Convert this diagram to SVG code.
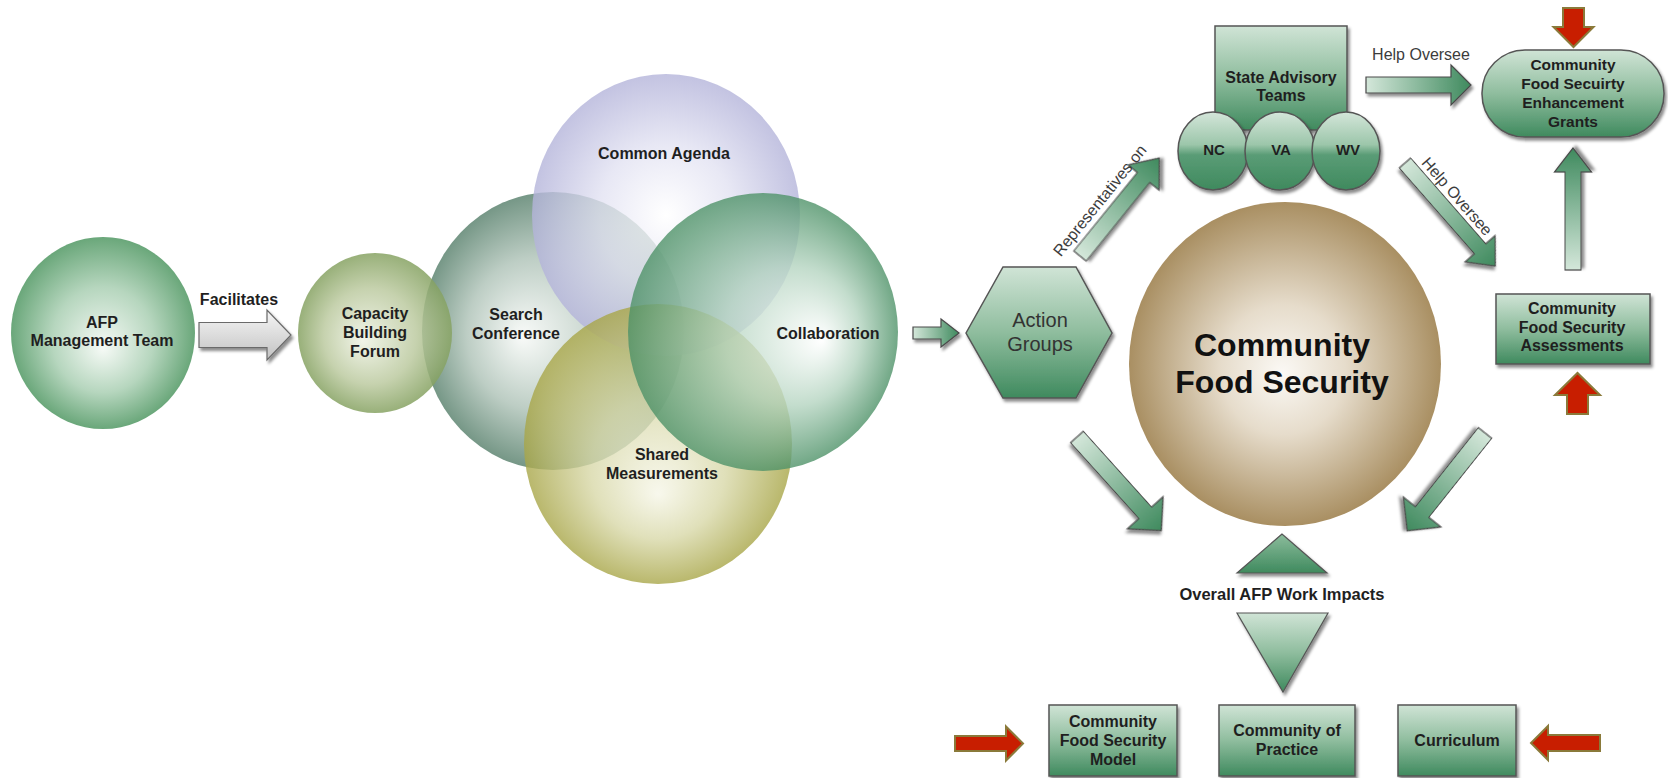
<svg xmlns="http://www.w3.org/2000/svg" width="1668" height="778" viewBox="0 0 1668 778">
<defs>
<style>
.b{font-family:"Liberation Sans",Arial,sans-serif;font-weight:bold;font-size:16px;fill:#1f1f1f;text-anchor:middle}
.r{font-family:"Liberation Sans",Arial,sans-serif;font-size:16px;fill:#3c3c3c;text-anchor:middle}
.box{fill:url(#gBox);stroke:#555;stroke-width:1.5;filter:url(#sh)}
.ga{fill:url(#gArrow);stroke:#4a4a4a;stroke-width:1.2;filter:url(#sh)}
.ra{fill:#c81e00;stroke:#8a7a3a;stroke-width:2}
</style>
<filter id="sh" x="-20%" y="-20%" width="140%" height="140%"><feDropShadow dx="2" dy="3" stdDeviation="1.5" flood-color="#000" flood-opacity="0.45"/></filter>
<linearGradient id="gBox" x1="0" y1="0" x2="0" y2="1"><stop offset="0" stop-color="#d0e4d6"/><stop offset="0.5" stop-color="#8fbd9e"/><stop offset="1" stop-color="#3f8a5e"/></linearGradient>
<linearGradient id="gCirc" x1="0" y1="0" x2="0" y2="1"><stop offset="0" stop-color="#d4e6da"/><stop offset="0.42" stop-color="#9cc6aa"/><stop offset="0.55" stop-color="#5a9c76"/><stop offset="1" stop-color="#3f8a5e"/></linearGradient>
<linearGradient id="gArrow" x1="0" y1="0" x2="1" y2="0"><stop offset="0" stop-color="#d4e7da"/><stop offset="1" stop-color="#3f8a5e"/></linearGradient>
<linearGradient id="gUp" x1="0" y1="0" x2="0" y2="1"><stop offset="0" stop-color="#8cbc9c"/><stop offset="1" stop-color="#3f8a5e"/></linearGradient>
<linearGradient id="gGray" x1="0" y1="0" x2="0" y2="1"><stop offset="0" stop-color="#f6f6f6"/><stop offset="1" stop-color="#c2c2c2"/></linearGradient>
<radialGradient id="rAFP" cx="0.5" cy="0.5" r="0.5" fx="0.5" fy="0.58"><stop offset="0" stop-color="#f6faf6"/><stop offset="0.55" stop-color="#b6d6be"/><stop offset="1" stop-color="#6aa77a"/></radialGradient>
<radialGradient id="rCap" cx="0.5" cy="0.5" r="0.5" fx="0.42" fy="0.55"><stop offset="0" stop-color="#eef2e4"/><stop offset="0.6" stop-color="#bccaa0"/><stop offset="1" stop-color="#86a262"/></radialGradient>
<radialGradient id="rSearch" cx="0.5" cy="0.5" r="0.5" fx="0.38" fy="0.52"><stop offset="0" stop-color="#f8faf8"/><stop offset="0.55" stop-color="#b7c9bf"/><stop offset="1" stop-color="#6a8e7c"/></radialGradient>
<radialGradient id="rCommon" cx="0.5" cy="0.5" r="0.5" fx="0.5" fy="0.5"><stop offset="0" stop-color="#ffffff"/><stop offset="0.5" stop-color="#e2e2f2"/><stop offset="1" stop-color="#b4b4da"/></radialGradient>
<radialGradient id="rShared" cx="0.5" cy="0.5" r="0.5" fx="0.5" fy="0.68"><stop offset="0" stop-color="#f6f6e8"/><stop offset="0.5" stop-color="#d8d8a8"/><stop offset="1" stop-color="#a8a648"/></radialGradient>
<radialGradient id="rCollab" cx="0.5" cy="0.5" r="0.5" fx="0.72" fy="0.53"><stop offset="0" stop-color="#ffffff"/><stop offset="0.5" stop-color="#b4d4c0"/><stop offset="1" stop-color="#4e9268"/></radialGradient>
<radialGradient id="rCFS" cx="0.5" cy="0.5" r="0.5" fx="0.49" fy="0.53"><stop offset="0" stop-color="#fbf9f5"/><stop offset="0.4" stop-color="#e6dccb"/><stop offset="1" stop-color="#a98f62"/></radialGradient>
</defs>
<rect width="1668" height="778" fill="#ffffff"/>

<g id="afp-management-team">
<ellipse cx="103" cy="333" rx="92" ry="96" fill="url(#rAFP)"/>
<text class="b" x="102" y="328">AFP</text>
<text class="b" x="102" y="346">Management Team</text>
</g>

<g id="venn">
<g id="search-conference"><ellipse cx="553" cy="331" rx="131" ry="139" fill="url(#rSearch)" opacity="0.92"/></g>
<g id="capacity-building-forum"><ellipse cx="375" cy="333" rx="77" ry="80" fill="url(#rCap)" opacity="0.85"/></g>
<g id="common-agenda"><ellipse cx="666" cy="215" rx="134" ry="141" fill="url(#rCommon)" opacity="0.8"/></g>
<g id="shared-measurements"><ellipse cx="658" cy="444" rx="134" ry="140" fill="url(#rShared)" opacity="0.8"/></g>
<g id="collaboration"><ellipse cx="763" cy="332" rx="135" ry="139" fill="url(#rCollab)" opacity="0.8"/></g>
<text class="b" x="375" y="319">Capacity</text>
<text class="b" x="375" y="338">Building</text>
<text class="b" x="375" y="357">Forum</text>
<text class="b" x="516" y="320">Search</text>
<text class="b" x="516" y="339">Conference</text>
<text class="b" x="664" y="159">Common Agenda</text>
<text class="b" x="828" y="339">Collaboration</text>
<text class="b" x="662" y="460">Shared</text>
<text class="b" x="662" y="479">Measurements</text>
</g>

<g id="action-groups">
<polygon points="966,333 1003,267 1076,267 1112,333 1076,398 1003,398" fill="url(#gBox)" stroke="#555" stroke-width="1.5" filter="url(#sh)"/>
<text class="r" x="1040" y="327" style="font-size:20px;fill:#333">Action</text>
<text class="r" x="1040" y="351" style="font-size:20px;fill:#333">Groups</text>
</g>

<g id="community-food-security">
<ellipse cx="1285" cy="364" rx="156" ry="162" fill="url(#rCFS)"/>
<text class="b" x="1282" y="356" style="font-size:32px;fill:#111">Community</text>
<text class="b" x="1282" y="393" style="font-size:32px;fill:#111">Food Security</text>
</g>

<g id="state-advisory-teams">
<rect class="box" x="1215" y="26" width="132" height="104"/>
<text class="b" x="1281" y="83">State Advisory</text>
<text class="b" x="1281" y="101">Teams</text>
<g id="nc"><ellipse cx="1213" cy="151" rx="35" ry="39" fill="url(#gCirc)" stroke="#555" stroke-width="1.5" filter="url(#sh)"/><text class="b" x="1214" y="155" style="font-size:15px">NC</text></g>
<g id="va"><ellipse cx="1280" cy="151" rx="35" ry="39" fill="url(#gCirc)" stroke="#555" stroke-width="1.5" filter="url(#sh)"/><text class="b" x="1281" y="155" style="font-size:15px">VA</text></g>
<g id="wv"><ellipse cx="1346" cy="151" rx="34" ry="39" fill="url(#gCirc)" stroke="#555" stroke-width="1.5" filter="url(#sh)"/><text class="b" x="1348" y="155" style="font-size:15px">WV</text></g>
</g>

<g id="enhancement-grants">
<rect class="box" x="1482" y="50" width="182" height="87" rx="43" ry="43"/>
<text class="b" x="1573" y="70" style="font-size:15.5px">Community</text>
<text class="b" x="1573" y="89" style="font-size:15.5px">Food Secuirty</text>
<text class="b" x="1573" y="108" style="font-size:15.5px">Enhancement</text>
<text class="b" x="1573" y="127" style="font-size:15.5px">Grants</text>
</g>

<g id="assessments">
<rect class="box" x="1496" y="294" width="154" height="70"/>
<text class="b" x="1572" y="314">Community</text>
<text class="b" x="1572" y="333">Food Security</text>
<text class="b" x="1572" y="351">Assessments</text>
</g>

<g id="overall-impacts">
<polygon points="1282,534 1237,573 1327,573" fill="url(#gUp)" stroke="#555" stroke-width="1.2" filter="url(#sh)"/>
<text class="b" x="1282" y="600" style="font-size:16.5px">Overall AFP Work Impacts</text>
<polygon points="1237,613 1328,613 1283,692" fill="url(#gBox)" stroke="#555" stroke-width="1.2" filter="url(#sh)"/>
</g>

<g id="cfs-model">
<rect class="box" x="1049" y="705" width="128" height="71"/>
<text class="b" x="1113" y="727">Community</text>
<text class="b" x="1113" y="746">Food Security</text>
<text class="b" x="1113" y="765">Model</text>
</g>
<g id="community-of-practice">
<rect class="box" x="1219" y="705" width="136" height="71"/>
<text class="b" x="1287" y="736">Community of</text>
<text class="b" x="1287" y="755">Practice</text>
</g>
<g id="curriculum">
<rect class="box" x="1398" y="705" width="118" height="71"/>
<text class="b" x="1457" y="746">Curriculum</text>
</g>

<g id="connectors">
<path d="M0,-12.5 L68,-12.5 L68,-25 L92,0 L68,25 L68,12.5 L0,12.5 Z" transform="translate(199,335)" fill="url(#gGray)" stroke="#6a6a6a" stroke-width="1.2" filter="url(#sh)"/>
<text class="b" x="239" y="305">Facilitates</text>
<path class="ga" d="M0,-6 L28,-6 L28,-14 L46,0 L28,14 L28,6 L0,6 Z" transform="translate(913,333)"/>
<path class="ga" d="M0,-8 L101,-8 L101,-20 L126,0 L101,20 L101,8 L0,8 Z" transform="translate(1080,256) rotate(-51)"/>
<text class="r" transform="translate(1104,204) rotate(-51)" x="0" y="0">Representatives on</text>
<path class="ga" d="M0,-8 L85,-8 L85,-20 L105,0 L85,20 L85,8 L0,8 Z" transform="translate(1366,85)"/>
<text class="r" x="1421" y="60">Help Oversee</text>
<path class="ga" d="M0,-7.5 L114,-7.5 L114,-20 L137,0 L114,20 L114,7.5 L0,7.5 Z" transform="translate(1405,163) rotate(48.8)"/>
<text class="r" transform="translate(1453,200) rotate(48.8)" x="0" y="0">Help Oversee</text>
<path class="ga" d="M0,-8 L98,-8 L98,-18.5 L122,0 L98,18.5 L98,8 L0,8 Z" transform="translate(1573,270) rotate(-90)"/>
<path class="ga" d="M0,-8.5 L102,-8.5 L102,-24 L126,0 L102,24 L102,8.5 L0,8.5 Z" transform="translate(1077,437) rotate(48)"/>
<path class="ga" d="M0,-8.5 L101,-8.5 L101,-24 L125,0 L101,24 L101,8.5 L0,8.5 Z" transform="translate(1485,433) rotate(128.5)"/>
<path class="ra" d="M0,-10.5 L19,-10.5 L19,-20 L39,0 L19,20 L19,10.5 L0,10.5 Z" transform="translate(1573.5,8) rotate(90)"/>
<path class="ra" d="M0,-10.5 L19,-10.5 L19,-22.5 L41,0 L19,22.5 L19,10.5 L0,10.5 Z" transform="translate(1577.5,414) rotate(-90)"/>
<path class="ra" d="M0,-7.5 L51,-7.5 L51,-17 L68,0 L51,17 L51,7.5 L0,7.5 Z" transform="translate(955,743.5)"/>
<path class="ra" d="M0,-8 L52,-8 L52,-17 L69,0 L52,17 L52,8 L0,8 Z" transform="translate(1600,743) rotate(180)"/>
</g>
</svg>
